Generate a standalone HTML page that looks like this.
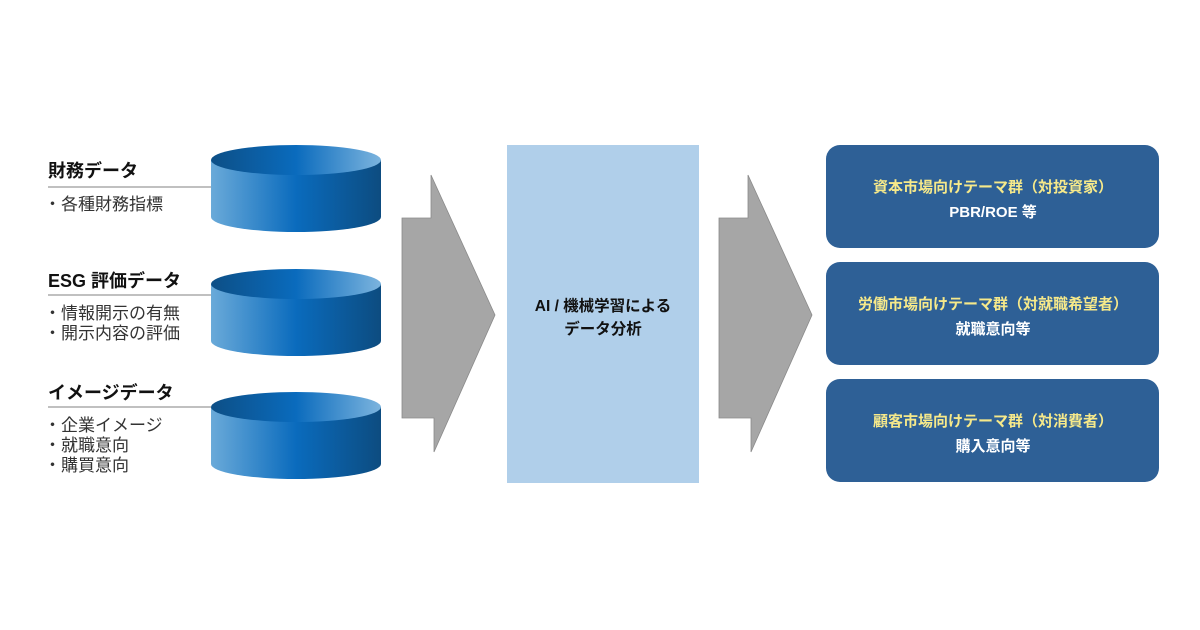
<!DOCTYPE html>
<html><head><meta charset="utf-8"><style>
body{margin:0;width:1200px;height:630px;background:#fff;overflow:hidden;font-family:"Liberation Sans","Noto Sans CJK JP",sans-serif;}
</style></head><body>
<svg width="1200" height="630" viewBox="0 0 1200 630" xmlns="http://www.w3.org/2000/svg" style="position:absolute;left:0;top:0">
<defs>
<linearGradient id="body" x1="0" x2="1" y1="0" y2="0">
<stop offset="0" stop-color="#6aaad9"/><stop offset="0.5" stop-color="#0a6bbd"/><stop offset="1" stop-color="#0d4c80"/></linearGradient>
<linearGradient id="top" x1="0" x2="1" y1="0" y2="0">
<stop offset="0" stop-color="#0d4f86"/><stop offset="0.5" stop-color="#0a6bbd"/><stop offset="1" stop-color="#7cb4de"/></linearGradient>
</defs>
<g font-family="Liberation Sans, Noto Sans CJK JP, sans-serif">
<g>
<path d="M211 160 L211 217 A85 15 0 0 0 381 217 L381 160 Z" fill="url(#body)"/>
<ellipse cx="296" cy="160" rx="85" ry="15" fill="url(#top)"/>
</g>
<g>
<path d="M211 284 L211 341 A85 15 0 0 0 381 341 L381 284 Z" fill="url(#body)"/>
<ellipse cx="296" cy="284" rx="85" ry="15" fill="url(#top)"/>
</g>
<g>
<path d="M211 407 L211 464 A85 15 0 0 0 381 464 L381 407 Z" fill="url(#body)"/>
<ellipse cx="296" cy="407" rx="85" ry="15" fill="url(#top)"/>
</g>
<line x1="48" y1="187" x2="211" y2="187" stroke="#9a9a9a" stroke-width="1.2"/>
<line x1="48" y1="295" x2="211" y2="295" stroke="#9a9a9a" stroke-width="1.2"/>
<line x1="48" y1="407" x2="211" y2="407" stroke="#9a9a9a" stroke-width="1.2"/>
<g fill="#111" font-weight="bold" font-size="18">
<text x="48" y="177">財務データ</text>
<text x="48" y="287">ESG 評価データ</text>
<text x="48" y="399">イメージデータ</text>
</g>
<g fill="#333" font-size="17">
<text x="44" y="210">・各種財務指標</text>
<text x="44" y="319">・情報開示の有無</text>
<text x="44" y="339">・開示内容の評価</text>
<text x="44" y="431">・企業イメージ</text>
<text x="44" y="451">・就職意向</text>
<text x="44" y="471">・購買意向</text>
</g>
<polygon points="402,218 431,218 431,175 495,315 434,452 434,418 402,418" fill="#a6a6a6" stroke="#8a8a8a" stroke-width="0.8"/>
<polygon points="719,218 748,218 748,175 812,315 751,452 751,418 719,418" fill="#a6a6a6" stroke="#8a8a8a" stroke-width="0.8"/>
<rect x="507" y="145" width="192" height="338" fill="#b0cfea"/>
<g fill="#111" font-weight="bold" font-size="15.5" text-anchor="middle">
<text x="603" y="311">AI / 機械学習による</text>
<text x="603" y="334">データ分析</text>
</g>
<g fill="#2e6096">
<rect x="826" y="145" width="333" height="103" rx="14"/>
<rect x="826" y="262" width="333" height="103" rx="14"/>
<rect x="826" y="379" width="333" height="103" rx="14"/>
</g>
<g font-weight="bold" text-anchor="middle" font-size="15">
<text x="993" y="192" fill="#f6e98a">資本市場向けテーマ群（対投資家）</text>
<text x="993" y="217" fill="#fff">PBR/ROE 等</text>
<text x="993" y="309" fill="#f6e98a">労働市場向けテーマ群（対就職希望者）</text>
<text x="993" y="334" fill="#fff">就職意向等</text>
<text x="993" y="426" fill="#f6e98a">顧客市場向けテーマ群（対消費者）</text>
<text x="993" y="451" fill="#fff">購入意向等</text>
</g>
</g>
</svg>
</body></html>
